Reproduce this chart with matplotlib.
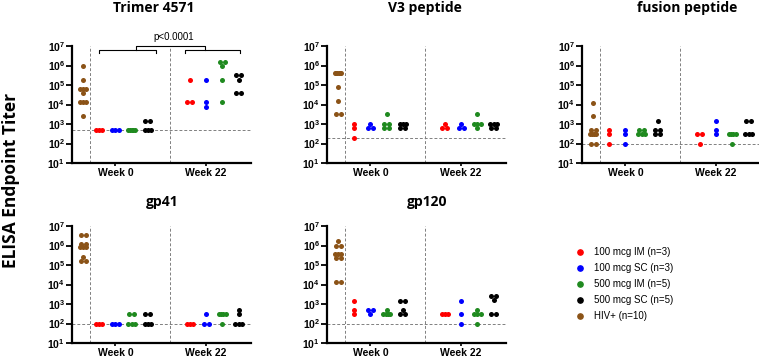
import numpy as np
import matplotlib.pyplot as plt
import matplotlib.transforms as mtransforms
from matplotlib.lines import Line2D
from matplotlib.ticker import LogLocator, NullFormatter, FixedLocator

plt.rcParams['font.family'] = 'Liberation Sans'
plt.rcParams['mathtext.fontset'] = 'custom'
plt.rcParams['mathtext.rm'] = 'Liberation Sans'
plt.rcParams['mathtext.bf'] = 'Liberation Sans:bold'

panel_titles = ['Trimer 4571', 'V3 peptide', 'fusion peptide', 'gp41', 'gp120']
group_labels = ['100 mcg IM (n=3)', '100 mcg SC (n=3)', '500 mcg IM (n=5)',
                '500 mcg SC (n=5)', 'HIV+ (n=10)']
group_colors = ['#ff0000', '#0000ff', '#1f8a1f', '#000000', '#8b5317']
week_labels = ['Week 0', 'Week 22']
cutoffs = [500, 200, 100, 100, 100]

# HIV+ sera
hiv_trimer = [9.5e5, 1.8e5, 6.2e4, 6.2e4, 6.2e4, 3.7e4, 1.3e4, 1.3e4, 1.3e4, 2.5e3]
hiv_v3 = [4e5, 4e5, 4e5, 4e5, 4e5, 4e5, 7.6e4, 1.6e4, 3.2e3, 3.2e3]
hiv_fusion = [1.2e4, 2.5e3, 500, 500, 300, 300, 300, 300, 100, 100]
hiv_gp41 = [3.6e6, 3.6e6, 1.2e6, 1.2e6, 8e5, 8e5, 8e5, 2.6e5, 1.6e5, 1.6e5]
hiv_gp120 = [1.7e6, 1e6, 1e6, 3.5e5, 3.5e5, 3.5e5, 2.3e5, 2.3e5, 1.3e4, 1.3e4]

# vaccine groups: 100 IM, 100 SC, 500 IM, 500 SC
trimer_wk0 = [[500, 500, 500], [500, 500, 500], [500, 500, 500, 500, 500],
              [1500, 1500, 500, 500, 500]]
trimer_wk22 = [[1.8e5, 1.3e4, 1.3e4], [1.8e5, 1.3e4, 7.4e3],
               [1.6e6, 1.6e6, 1e6, 1.8e5, 1.3e4], [3.2e5, 3.2e5, 1.8e5, 3.7e4, 3.7e4]]
v3_wk0 = [[1000, 600, 200], [1000, 600, 600], [3200, 1000, 1000, 600, 600],
          [1000, 1000, 1000, 600, 600]]
v3_wk22 = [[1000, 600, 600], [1000, 600, 600], [3200, 1000, 1000, 1000, 600],
           [1000, 1000, 1000, 600, 600]]
fusion_wk0 = [[500, 300, 100], [500, 300, 100], [500, 500, 300, 300, 300],
              [1500, 500, 500, 300, 300]]
fusion_wk22 = [[300, 300, 100], [1500, 500, 300], [300, 300, 300, 300, 100],
               [1500, 1500, 300, 300, 300]]
gp41_wk0 = [[100, 100, 100], [100, 100, 100], [300, 300, 100, 100, 100],
            [300, 300, 100, 100, 100]]
gp41_wk22 = [[100, 100, 100], [300, 100, 100], [300, 300, 300, 300, 100],
             [500, 300, 100, 100, 100]]
gp120_wk0 = [[1500, 500, 300], [500, 500, 300], [500, 300, 300, 300, 300],
             [1500, 1500, 500, 300, 300]]
gp120_wk22 = [[300, 300, 300], [1500, 300, 100], [500, 300, 300, 300, 100],
              [2700, 2700, 1600, 300, 300]]

panels = [(hiv_trimer, trimer_wk0, trimer_wk22),
          (hiv_v3, v3_wk0, v3_wk22),
          (hiv_fusion, fusion_wk0, fusion_wk22),
          (hiv_gp41, gp41_wk0, gp41_wk22),
          (hiv_gp120, gp120_wk0, gp120_wk22)]

hiv_pos = 0
wk0_pos = [1, 2, 3, 4]
wk22_pos = [6.6, 7.6, 8.6, 9.6]
xmin, xmax = -0.68, 10.37

W, H = 759, 358
fig = plt.figure(figsize=(W / 100, H / 100), dpi=100)

# axes rectangles in pixels: left, top, width, height
lefts = [72, 327, 582, 72, 327]
tops = [46, 46, 46, 226, 226]
ax_w, ax_h = 179, 117
title_x = [154, 425, 687, 162, 427]
title_base = [12, 12, 12, 206, 206]

px_per_x = ax_w / (xmax - xmin)
px_per_dec = ax_h / 6.0


def swarm(vals):
    # points with nearly equal values share a row and are spread sideways
    v = np.asarray(vals, dtype=float)
    ly = np.log10(v) * px_per_dec
    order = np.argsort(-v, kind='stable')
    offs = np.zeros(len(v))
    rows = []
    for i in order:
        if rows and abs(ly[rows[-1][0]] - ly[i]) < 3.0:
            rows[-1].append(i)
        else:
            rows.append([i])
    for row in rows:
        n = len(row)
        if n == 1:
            continue
        step = min(5.0, 6.5 / (n - 1))
        slots = (np.arange(n) - (n - 1) / 2) * step
        slots = slots[np.argsort(np.abs(slots), kind='stable')]
        for j, i in enumerate(row):
            offs[i] = slots[j]
    return offs / px_per_x


for k, (hiv, wk0, wk22) in enumerate(panels):
    ax = fig.add_axes([lefts[k] / W, 1 - (tops[k] + ax_h) / H, ax_w / W, ax_h / H])
    ax.set_yscale('log')
    ax.set_ylim(10, 1e7)
    ax.set_xlim(xmin, xmax)

    ax.scatter(hiv_pos + swarm(hiv), hiv, s=13, color=group_colors[4], lw=0, zorder=3)
    for g in range(4):
        ax.scatter(wk0_pos[g] + swarm(wk0[g]), wk0[g], s=13, color=group_colors[g], lw=0, zorder=3)
        ax.scatter(wk22_pos[g] + swarm(wk22[g]), wk22[g], s=13, color=group_colors[g], lw=0, zorder=3)

    ax.axhline(cutoffs[k], color='#808080', lw=0.7, dashes=(3, 2), zorder=1)
    ax.axvline(0.45, color='#808080', lw=0.7, dashes=(3, 2), zorder=1)
    ax.axvline(5.35, color='#808080', lw=0.7, dashes=(3, 2), zorder=1)

    for s in ['top', 'right']:
        ax.spines[s].set_visible(False)
    ax.spines['left'].set_linewidth(1.6)
    ax.spines['bottom'].set_linewidth(1.6)

    ax.yaxis.set_major_locator(FixedLocator([10.0 ** e for e in range(1, 8)]))
    ax.set_yticklabels([r'$\mathbf{10^{%d}}$' % e for e in range(1, 8)], fontsize=7.5)
    ax.yaxis.set_minor_locator(LogLocator(base=10, subs=np.arange(2, 10)))
    ax.yaxis.set_minor_formatter(NullFormatter())
    ax.tick_params(axis='y', which='major', length=4, width=1.3, pad=1)
    ax.tick_params(axis='y', which='minor', length=2.5, width=0.9)

    ax.set_xticks([wk0_pos[1], wk22_pos[1]])
    ax.set_xticklabels(week_labels, fontsize=7.5, fontweight='bold')
    ax.tick_params(axis='x', length=2.5, width=1.2, pad=1)

    fig.text(title_x[k] / W, 1 - title_base[k] / H, panel_titles[k], ha='center',
             va='baseline', fontsize=10, fontweight='bold', family='Open Sans')

    if k == 0:
        tr = mtransforms.blended_transform_factory(ax.transData, ax.transAxes)
        kw = dict(transform=tr, color='black', lw=0.8, clip_on=False)
        ax.plot([1.0, 1.0, 4.5, 4.5], [0.943, 0.966, 0.966, 0.943], **kw)
        ax.plot([6.3, 6.3, 9.72, 9.72], [0.943, 0.966, 0.966, 0.943], **kw)
        ax.plot([3.25, 3.25, 7.5, 7.5], [0.966, 1.0, 1.0, 0.966], **kw)
        ax.text(5.6, 1.074, 'p<0.0001', transform=tr, ha='center', va='center', fontsize=7)

fig.text(11 / W, 0.497, 'ELISA Endpoint Titer', rotation=90, ha='center', va='center',
         fontsize=12.5, fontweight='bold', family='Open Sans')

handles = [Line2D([0], [0], marker='o', ls='none', color=c, markersize=3.8) for c in group_colors]
fig.legend(handles, group_labels, loc='upper left', bbox_to_anchor=(576 / W, 1 - 247 / H),
           frameon=False, fontsize=7, handlelength=0.8, handletextpad=1.05,
           labelspacing=0.62, borderpad=0, borderaxespad=0)

fig.savefig('out.png', dpi=100)
